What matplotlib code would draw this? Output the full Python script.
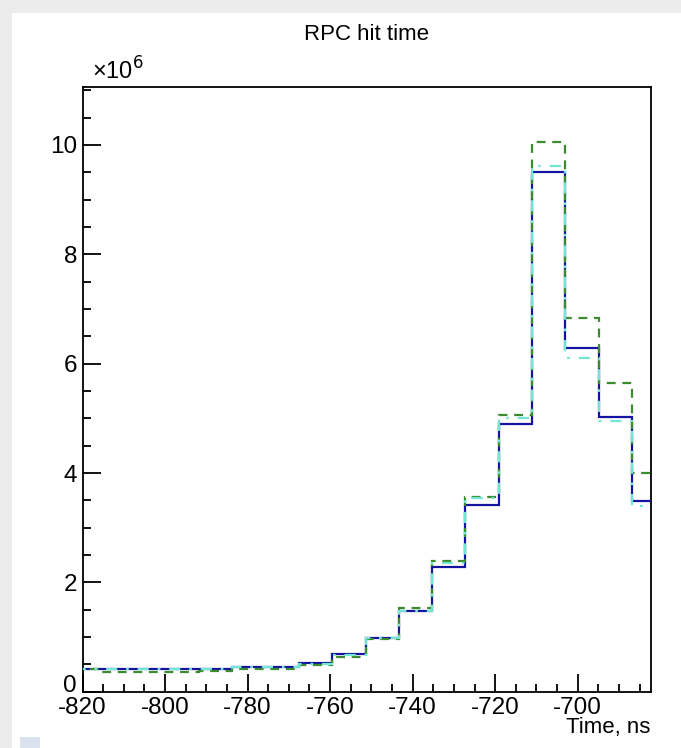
import matplotlib
matplotlib.use("Agg")
import matplotlib.pyplot as plt
from matplotlib.patches import Rectangle
from matplotlib.ticker import MultipleLocator
from matplotlib.transforms import ScaledTranslation

plt.rcParams['font.family'] = ['Liberation Sans', 'DejaVu Sans']

# Bin edges (ns)
bin_edges = [-824.1, -816.0, -808.0, -799.9, -791.8, -783.7, -775.7, -767.6,
             -759.5, -751.4, -743.4, -735.3, -727.2, -719.1, -711.1, -703.0,
             -694.9, -686.8, -678.8]

# Counts in units of 1e6
blue_counts = [0.415, 0.415, 0.415, 0.415, 0.415, 0.458, 0.458, 0.52, 0.69,
               0.98, 1.48, 2.29, 3.42, 4.90, 9.51, 6.29, 5.02, 3.49]
green_counts = [0.41, 0.36, 0.36, 0.36, 0.37, 0.41, 0.41, 0.48, 0.63,
                0.97, 1.53, 2.39, 3.56, 5.07, 10.05, 6.84, 5.65, 4.00]
cyan_counts = [0.42, 0.42, 0.42, 0.42, 0.42, 0.45, 0.45, 0.51, 0.68,
               0.98, 1.47, 2.36, 3.55, 5.00, 9.62, 6.11, 4.95, 3.39]

x_major_ticks = [-820, -800, -780, -760, -740, -720, -700]
y_major_ticks = [0, 2, 4, 6, 8, 10]

W, H = 681, 748
fig = plt.figure(figsize=(W / 100, H / 100), dpi=100, facecolor='white')

# Gray frame bands and small square (figure pixel coords)
fig.patches.append(Rectangle((0, H - 13), W, 13, transform=None,
                             facecolor='#ececec', edgecolor='none', zorder=-5))
fig.patches.append(Rectangle((0, 0), 12, H, transform=None,
                             facecolor='#ececec', edgecolor='none', zorder=-5))
fig.patches.append(Rectangle((20, 0), 20, 11, transform=None,
                             facecolor='#dbe2ef', edgecolor='none', zorder=-4))

left, right = 82.5 / W, 650.7 / W
bottom, top = (H - 691.7) / H, (H - 87.3) / H
ax = fig.add_axes([left, bottom, right - left, top - bottom])

ymax = 1.1 * max(green_counts)
ax.stairs(blue_counts, bin_edges, color='#1414a0', lw=1.6, zorder=3)
ax.stairs(green_counts, bin_edges, color='#3d8b2f', lw=1.6,
          linestyle=(0, (4, 3)), zorder=4)
ax.stairs(cyan_counts, bin_edges, color='#72e6d4', lw=1.6,
          linestyle=(0, (5, 4, 1.2, 4)), zorder=5)

ax.set_xlim(-820, -682.3)
ax.set_ylim(0, ymax)

ax.set_xticks(x_major_ticks)
ax.set_xticklabels([str(t) for t in x_major_ticks])
ax.xaxis.set_minor_locator(MultipleLocator(5))
ax.set_yticks(y_major_ticks)
ax.set_yticklabels([str(t) for t in y_major_ticks])
ax.yaxis.set_minor_locator(MultipleLocator(0.5))

ax.tick_params(axis='both', which='major', direction='in', length=13,
               width=1.3, labelsize=17.5, color='black')
ax.tick_params(axis='both', which='minor', direction='in', length=6,
               width=1.3, color='black')
ax.tick_params(axis='x', which='both', top=False, pad=4)
ax.tick_params(axis='y', which='both', right=False, pad=4)

# lift the "0" label slightly so it sits above the x tick labels
zero_lbl = ax.yaxis.get_major_ticks()[0].label1
zero_lbl.set_transform(zero_lbl.get_transform() +
                       ScaledTranslation(0, 6 / 72, fig.dpi_scale_trans))

for sp in ax.spines.values():
    sp.set_linewidth(1.3)
    sp.set_color('black')

fig.text(366.6 / W, (H - 35) / H, 'RPC hit time', ha='center', va='center',
         fontsize=16)
fig.text(650 / W, (H - 727) / H, 'Time, ns', ha='right', va='center',
         fontsize=16)
fig.text(92 / W, (H - 80) / H, r'×10$^{6}$', ha='left', va='baseline',
         fontsize=17)

fig.savefig('out.png', dpi=100, facecolor=fig.get_facecolor())
